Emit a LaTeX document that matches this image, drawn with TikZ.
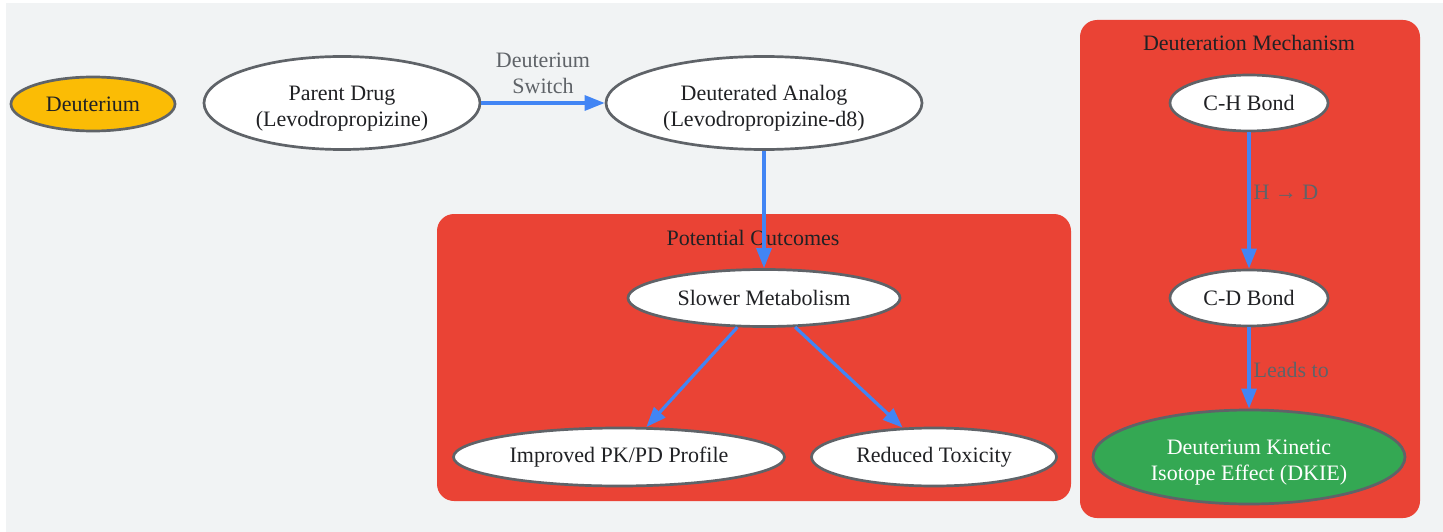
\documentclass[tikz,border=0pt]{standalone}
\RequirePackage{fontspec}
\setmainfont{Liberation Serif}
\RequirePackage{tikz}
\usetikzlibrary{shapes.geometric}
\usetikzlibrary{arrows.meta}

\definecolor{bggray}{HTML}{F1F3F4}
\definecolor{clusterred}{HTML}{EA4335}
\definecolor{deutyellow}{HTML}{FBBC05}
\definecolor{kiegreen}{HTML}{34A853}
\definecolor{linkblue}{HTML}{4285F4}
\definecolor{rimgray}{HTML}{5F6368}
\definecolor{inkgray}{HTML}{202124}
\definecolor{tagcolor}{HTML}{5F6368}

\newcommand{\tallstrut}{\rule{0pt}{25pt}}

\tikzset{
    every node/.style={font=\fontsize{22}{26}\selectfont, text=inkgray},
    blob/.style={ellipse, draw=rimgray, line width=2.7pt, fill=white, inner sep=0pt, align=center},
    cluster/.style={fill=clusterred, rounded corners=17pt},
    link/.style={draw=linkblue, line width=3.2pt, -{Triangle[length=20pt, width=15pt]}},
    tag/.style={text=tagcolor, align=center, inner sep=3pt}
}

\begin{document}
\begin{tikzpicture}[x=1pt, y=-1pt]
                    \useasboundingbox (0,0) rectangle (1443,532);
                    \fill[bggray] (6,3) rectangle (1443,532);

                    \fill[cluster] (437,214) rectangle (1071,501);
                    \fill[cluster] (1080,20) rectangle (1420,518);
                    \node (outtitle) at (753,238) {Potential Outcomes};
                    \node (mechtitle) at (1249,43) {Deuteration Mechanism};

                    \node[blob, fill=deutyellow, minimum width=164pt, minimum height=54pt] (deut) at (93,104) {Deuterium};
                    \node[blob, minimum width=276pt, minimum height=93pt] (parent) at (342,103) {\tallstrut Parent Drug\\(Levodropropizine)};
                    \node[blob, minimum width=316pt, minimum height=93pt] (analog) at (764,103) {\tallstrut Deuterated Analog\\(Levodropropizine-d8)};

                    \node[blob, minimum width=272pt, minimum height=57pt] (slower) at (764,298) {Slower Metabolism};
                    \node[blob, minimum width=331pt, minimum height=58pt] (pkpd) at (619,457) {Improved PK/PD Profile};
                    \node[blob, minimum width=245pt, minimum height=58pt] (toxic) at (934,457) {Reduced Toxicity};

                    \node[blob, minimum width=158pt, minimum height=56pt] (chbond) at (1249,103) {C-H Bond};
                    \node[blob, minimum width=158pt, minimum height=56pt] (cdbond) at (1249,298) {C-D Bond};
                    \node[blob, fill=kiegreen, text=white, minimum width=312pt, minimum height=94pt] (dkie) at (1249,457) {\tallstrut Deuterium Kinetic\\Isotope Effect (DKIE)};

                    \draw[link] (parent) -- node[tag, above, yshift=5pt] {Deuterium\\Switch} (analog);
                    \draw[link] (analog) -- (slower);
                    \draw[link] (slower) -- (pkpd);
                    \draw[link] (slower) -- (toxic);
                    \draw[link] (chbond) -- node[tag, right, pos=0.44] {H → D} (cdbond);
                    \draw[link] (cdbond) -- node[tag, right, pos=0.52] {Leads to} (dkie);
                \end{tikzpicture}
\end{document}
